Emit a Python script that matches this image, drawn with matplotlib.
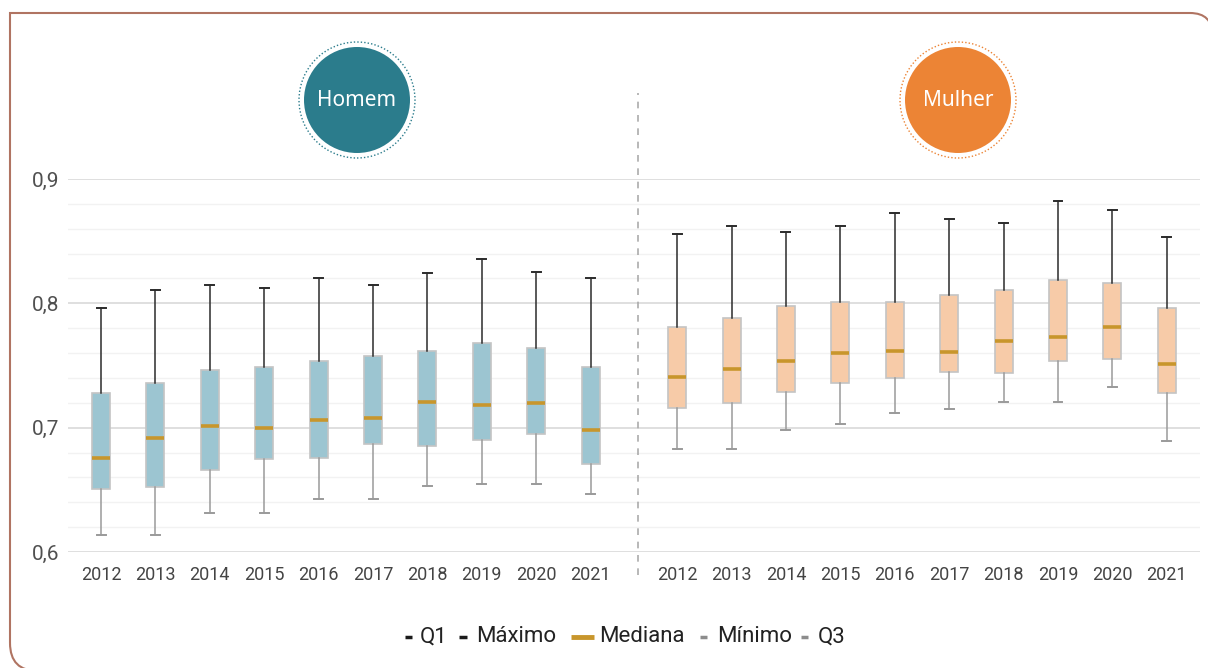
import numpy as np
import matplotlib
matplotlib.use("Agg")
import matplotlib.pyplot as plt
from matplotlib.patches import Circle, PathPatch
from matplotlib.path import Path
from matplotlib.lines import Line2D
from matplotlib.transforms import IdentityTransform

anos = ["2012", "2013", "2014", "2015", "2016", "2017", "2018", "2019", "2020", "2021"]

homem_min = [0.614, 0.614, 0.631, 0.631, 0.643, 0.643, 0.653, 0.655, 0.655, 0.647]
homem_q1 = [0.651, 0.652, 0.666, 0.675, 0.676, 0.687, 0.685, 0.690, 0.695, 0.671]
homem_med = [0.676, 0.692, 0.701, 0.700, 0.706, 0.708, 0.721, 0.718, 0.720, 0.698]
homem_q3 = [0.728, 0.736, 0.746, 0.749, 0.754, 0.758, 0.762, 0.768, 0.764, 0.749]
homem_max = [0.796, 0.811, 0.815, 0.812, 0.820, 0.815, 0.824, 0.836, 0.825, 0.820]

mulher_min = [0.683, 0.683, 0.698, 0.703, 0.712, 0.715, 0.721, 0.721, 0.733, 0.689]
mulher_q1 = [0.716, 0.720, 0.729, 0.736, 0.740, 0.745, 0.744, 0.754, 0.755, 0.728]
mulher_med = [0.741, 0.747, 0.754, 0.760, 0.762, 0.761, 0.770, 0.773, 0.781, 0.751]
mulher_q3 = [0.781, 0.788, 0.798, 0.801, 0.801, 0.807, 0.811, 0.819, 0.816, 0.796]
mulher_max = [0.856, 0.862, 0.857, 0.862, 0.873, 0.868, 0.865, 0.882, 0.875, 0.853]

W, H = 1208, 668
fig = plt.figure(figsize=(W / 100, H / 100), dpi=100)
ax = fig.add_axes([68 / W, 1 - 552 / H, (1200 - 68) / W, (552 - 179) / H])


def px(x, y):
    # pixel coords from top-left -> figure fraction
    return x / W, 1 - y / H


def draw_group(pos, mins, q1s, meds, q3s, maxs, fill):
    stats = []
    for lo, a, m, b, hi in zip(mins, q1s, meds, q3s, maxs):
        stats.append({"whislo": lo, "q1": a, "med": m, "q3": b, "whishi": hi, "fliers": []})
    bp = ax.bxp(stats, positions=pos, widths=0.33, patch_artist=True, showfliers=False,
                boxprops=dict(facecolor=fill, edgecolor="#c4c4c4", linewidth=1.2),
                medianprops=dict(color="#c8962c", linewidth=2.6, solid_capstyle="butt"),
                whiskerprops=dict(linewidth=1.1), capprops=dict(linewidth=1.4))
    for i in range(len(stats)):
        bp["whiskers"][2 * i].set_color("#9a9a9a")
        bp["caps"][2 * i].set_color("#9a9a9a")
        bp["whiskers"][2 * i + 1].set_color("#2b2b2b")
        bp["caps"][2 * i + 1].set_color("#2b2b2b")
    for k in bp:
        for art in bp[k]:
            art.set_zorder(3)


pos_h = np.arange(len(anos))
pos_m = np.arange(len(anos)) + 10.59
draw_group(pos_h, homem_min, homem_q1, homem_med, homem_q3, homem_max, "#9cc5d1")
draw_group(pos_m, mulher_min, mulher_q1, mulher_med, mulher_q3, mulher_max, "#f7cba8")

ax.set_xlim(-0.607, 20.2)
ax.set_ylim(0.6, 0.9)
ax.set_xticks(np.concatenate([pos_h, pos_m]))
ax.set_xticklabels(anos + anos, fontsize=13, color="#444444", family="Roboto")
ax.set_yticks([0.6, 0.7, 0.8, 0.9])
ax.set_yticklabels(["0,6", "0,7", "0,8", "0,9"], fontsize=15, color="#505050",
                   family="Roboto")
ax.set_yticks(np.arange(0.62, 0.9, 0.02), minor=True)
ax.tick_params(axis="both", which="both", length=0)
ax.tick_params(axis="x", pad=10)
ax.tick_params(axis="y", pad=6)
for s in ax.spines.values():
    s.set_visible(False)
ax.grid(axis="y", which="major", color="#dcdcdc", linewidth=1.3, zorder=0)
ax.grid(axis="y", which="minor", color="#f2f2f2", linewidth=1.0, zorder=0)
ax.set_axisbelow(True)

# divider between the two groups
ax.axvline(9.87, ymin=-0.062, ymax=1.23, color="#ababab", linestyle=(0, (4, 4)),
           linewidth=1.2, clip_on=False, zorder=1)

# group badges
trans = IdentityTransform()
for cx, label, col in [(357, "Homem", "#2b7c8c"), (958, "Mulher", "#ec8435")]:
    cy = H - 100
    fig.patches.append(Circle((cx, cy), 53, transform=trans, facecolor=col, edgecolor="none"))
    fig.patches.append(Circle((cx, cy), 58, transform=trans, facecolor="none", edgecolor=col,
                              linewidth=1.0, linestyle=(0, (1, 1.5))))
    fig.text(cx / W, cy / H, label, color="white", fontsize=15, family="Noto Sans",
             fontweight="semibold", ha="center", va="center")

# legend
ly = 637
items = [(405, 412, "#1a1a1a", 2.5, "Q1", 420),
         (459, 467, "#1a1a1a", 2.5, "Máximo", 476),
         (571, 594, "#c8962c", 3.5, "Mediana", 599),
         (700, 707, "#8c8c8c", 2.5, "Mínimo", 717),
         (801, 808, "#8c8c8c", 2.5, "Q3", 818)]
for x0, x1, col, lw, txt, tx in items:
    a, yy = px(x0, ly)
    b, _ = px(x1, ly)
    fig.lines.append(Line2D([a, b], [yy, yy], transform=fig.transFigure, color=col,
                            linewidth=lw, solid_capstyle="butt"))
    fig.text(tx / W, yy, txt, fontsize=16, color="#222222", family="Roboto",
             ha="left", va="center")

# frame with rounded top-right and bottom-left corners
frame_top = Path([px(10, 643), px(10, 13), px(1190, 13), px(1212.5, 13), px(1212.5, 35.5)],
                 [Path.MOVETO, Path.LINETO, Path.LINETO, Path.CURVE3, Path.CURVE3])
frame_bl = Path([px(10, 643), px(10, 671), px(38, 671)],
                [Path.MOVETO, Path.CURVE3, Path.CURVE3])
for p in (frame_top, frame_bl):
    fig.patches.append(PathPatch(p, transform=fig.transFigure, facecolor="none",
                                 edgecolor="#b07462", linewidth=1.5))

fig.savefig("out.png", dpi=100)
